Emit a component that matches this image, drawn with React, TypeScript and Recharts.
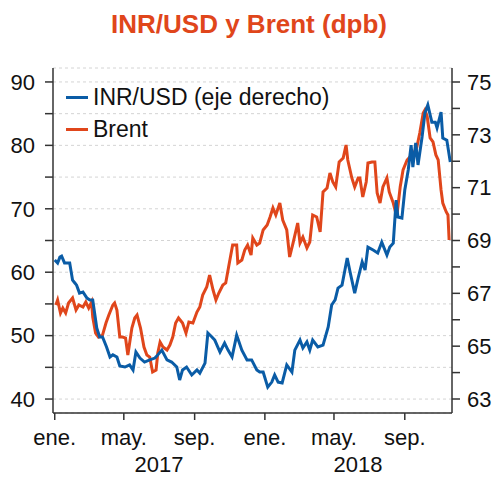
import React from 'react';
import { LineChart, Line, XAxis, YAxis, CartesianGrid } from 'recharts';

// days since 1 Jan 2017
const brentDays = [2, 5, 10, 14, 19, 24, 31, 37, 42, 49, 54, 59, 64, 66, 71, 76, 83, 89, 94, 101, 104, 108, 113, 118, 123, 127, 134, 139, 143, 149, 155, 160, 165, 170, 176, 179, 183, 188, 195, 200, 205, 210, 215, 222, 228, 233, 240, 247, 252, 257, 264, 269, 275, 280, 285, 292, 297, 302, 309, 316, 318, 325, 330, 335, 341, 344, 351, 356, 362, 369, 374, 379, 384, 391, 396, 403, 408, 414, 422, 426, 431, 438, 443, 448, 455, 461, 466, 473, 478, 483, 488, 494, 501, 506, 509, 516, 521, 527, 530, 535, 541, 544, 551, 556, 560, 565, 570, 577, 581, 588, 594, 600, 605, 612, 617, 622, 629, 634, 640, 643, 647, 652, 657, 662, 666, 671, 674, 680, 683, 685];
const brentValues = [54.83, 55.62, 53.56, 54.35, 53.56, 55.14, 55.93, 54.04, 54.83, 54.51, 55.3, 54.35, 55.3, 52.93, 50.41, 49.78, 50.09, 51.99, 53.25, 54.83, 55.14, 54.04, 49.78, 49.78, 49.62, 46.94, 51.2, 52.78, 53.25, 51.2, 48.2, 46.94, 46.62, 44.26, 44.57, 47.26, 48.99, 48.2, 47.73, 48.52, 49.78, 51.99, 52.78, 51.99, 50.41, 52.15, 51.99, 53.72, 54.51, 56.4, 57.67, 59.56, 57.19, 55.62, 56.72, 57.98, 58.3, 60.82, 64.29, 64.29, 61.45, 61.92, 63.5, 64.29, 62.71, 65.39, 64.29, 64.61, 66.66, 67.44, 68.71, 70.13, 69.02, 70.91, 68.23, 66.66, 62.4, 64.61, 67.76, 64.61, 65.55, 63.82, 64.76, 69.02, 68.71, 66.34, 72.65, 73.28, 75.65, 74.23, 73.44, 77.38, 78.01, 80.06, 77.7, 74.86, 73.44, 74.86, 74.86, 71.86, 74.23, 77.22, 77.38, 77.38, 72.49, 70.91, 73.44, 74.86, 72.65, 70.91, 68.71, 73.44, 76.12, 77.7, 78.17, 78.49, 79.75, 81.96, 85.11, 85.58, 84.48, 81.17, 80.54, 78.49, 77.7, 72.97, 70.91, 69.5, 69.02, 65.08];

const inrDays = [0, 5, 9, 12, 17, 26, 31, 35, 38, 43, 49, 56, 61, 66, 73, 78, 83, 90, 96, 101, 108, 113, 122, 130, 136, 141, 148, 156, 165, 174, 179, 186, 195, 203, 212, 217, 222, 229, 238, 247, 252, 261, 266, 273, 278, 287, 295, 301, 308, 316, 325, 334, 342, 351, 356, 362, 370, 377, 382, 388, 395, 403, 412, 417, 426, 431, 438, 443, 448, 457, 466, 475, 481, 487, 492, 499, 508, 513, 521, 527, 534, 539, 544, 553, 561, 568, 577, 582, 588, 593, 596, 603, 608, 614, 619, 622, 627, 631, 638, 643, 648, 655, 661, 664, 671, 674, 681, 687];
const inrValues = [68.26, 68.15, 68.37, 68.41, 68.15, 68.15, 67.5, 67.39, 67.31, 67.01, 67.05, 66.82, 66.75, 66.75, 65.69, 65.35, 65.35, 64.97, 64.59, 64.67, 64.59, 64.25, 64.21, 64.29, 64.1, 64.78, 64.55, 64.4, 64.48, 64.55, 64.67, 64.85, 64.48, 64.4, 64.21, 63.72, 64.1, 64.21, 63.91, 64.1, 63.98, 64.36, 65.5, 65.35, 65.23, 64.78, 65.12, 64.85, 64.59, 65.42, 64.85, 64.48, 64.48, 64.1, 64.02, 64.02, 63.45, 63.64, 63.91, 63.64, 63.61, 64.29, 64.02, 64.85, 65.23, 64.93, 65.16, 64.85, 65.23, 64.97, 65.04, 65.73, 66.56, 66.75, 67.2, 67.31, 68.34, 67.81, 67.01, 67.58, 68.19, 67.88, 68.75, 68.64, 68.53, 68.94, 68.45, 68.75, 68.9, 70.53, 69.89, 69.85, 70.91, 71.67, 72.61, 71.78, 72.69, 71.86, 72.92, 73.83, 74.13, 73.48, 73.48, 73.26, 73.86, 72.88, 72.8, 71.97];

const monthTicks = [0, 120, 243, 365, 485, 608];
const monthLabels = ['ene.', 'may.', 'sep.', 'ene.', 'may.', 'sep.'];
const leftTicks = [40, 45, 50, 55, 60, 65, 70, 75, 80, 85, 90];
const rightTicks = [63, 64, 65, 66, 67, 68, 69, 70, 71, 72, 73, 74, 75];

const BLUE = '#0a5ca6';
const ORANGE = '#e0461b';
const FONT = '"Liberation Sans", Arial, sans-serif';

const brentData = brentDays.map((d, i) => ({ day: d, v: brentValues[i] }));
const inrData = inrDays.map((d, i) => ({ day: d, v: inrValues[i] }));

const legendItems = [
  { name: 'INR/USD (eje derecho)', color: BLUE },
  { name: 'Brent', color: ORANGE },
];

const LegendBox = () => (
  <div style={{ position: 'absolute', left: 66, top: 81, fontFamily: FONT, fontSize: 23, color: '#111', pointerEvents: 'none' }}>
    {legendItems.map((it) => (
      <div key={it.name} style={{ display: 'flex', alignItems: 'center', height: 32, whiteSpace: 'nowrap' }}>
        <span style={{ display: 'inline-block', width: 22, height: 3, background: it.color, marginRight: 5 }} />
        <span>{it.name}</span>
      </div>
    ))}
  </div>
);

export default function App() {
  const tickStyle = { fill: '#111', fontSize: 22, fontFamily: FONT };
  return (
    <div style={{ position: 'absolute', left: 0, top: 0, width: 494, height: 477, background: '#fff' }}>
      <LineChart width={494} height={477} margin={{ top: 68, right: 0, bottom: 0, left: 0 }}>
        <CartesianGrid yAxisId="left" vertical={false} stroke="#d4d4d4" strokeDasharray="3 3" />
        <XAxis
          dataKey="day"
          type="number"
          domain={[-3, 690]}
          allowDataOverflow
          ticks={monthTicks}
          interval={0}
          tickFormatter={(v: number) => monthLabels[monthTicks.indexOf(v)] ?? ''}
          height={64}
          tickSize={7}
          tickMargin={9}
          tick={tickStyle}
          stroke="#333"
          strokeWidth={1.5}
        />
        <YAxis
          yAxisId="left"
          orientation="left"
          domain={[37.8, 92.2]}
          allowDataOverflow
          ticks={leftTicks}
          interval={0}
          tickFormatter={(v: number) => (v % 10 === 0 ? String(v) : '')}
          width={53}
          tickSize={8}
          tickMargin={10}
          tick={tickStyle}
          stroke="#333"
          strokeWidth={1.5}
        />
        <YAxis
          yAxisId="right"
          orientation="right"
          domain={[62.47, 75.53]}
          allowDataOverflow
          ticks={rightTicks}
          interval={0}
          tickFormatter={(v: number) => (v % 2 === 1 ? String(v) : '')}
          width={42}
          tickSize={8}
          tickMargin={7}
          tick={tickStyle}
          stroke="#333"
          strokeWidth={1.5}
        />
        <Line
          yAxisId="left"
          data={brentData}
          dataKey="v"
          name="Brent"
          stroke={ORANGE}
          strokeWidth={3}
          dot={false}
          isAnimationActive={false}
        />
        <Line
          yAxisId="right"
          data={inrData}
          dataKey="v"
          name="INR/USD (eje derecho)"
          stroke={BLUE}
          strokeWidth={3}
          dot={false}
          isAnimationActive={false}
        />
      </LineChart>
      <LegendBox />
      <svg width={494} height={477} style={{ position: 'absolute', left: 0, top: 0, pointerEvents: 'none' }}>
        <text x={249} y={33} textAnchor="middle" fontFamily={FONT} fontSize={26} fontWeight="bold" fill={ORANGE}>
          INR/USD y Brent (dpb)
        </text>
        <text x={159} y={472} textAnchor="middle" fontFamily={FONT} fontSize={22} fill="#111">2017</text>
        <text x={358} y={472} textAnchor="middle" fontFamily={FONT} fontSize={22} fill="#111">2018</text>
      </svg>
    </div>
  );
}
